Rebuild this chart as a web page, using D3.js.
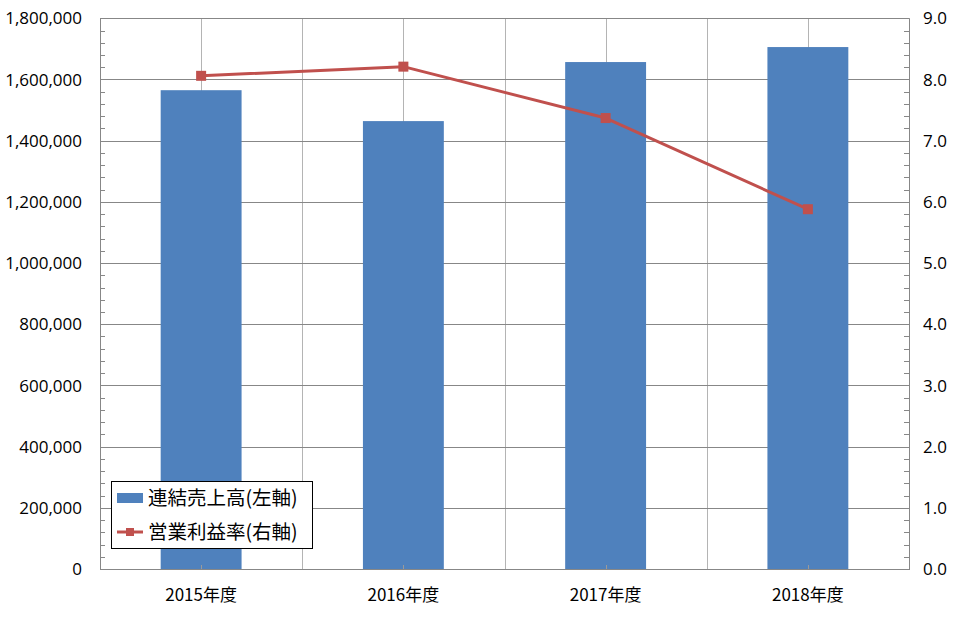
<!DOCTYPE html>
<html><head><meta charset="utf-8">
<script src="https://cdn.jsdelivr.net/npm/d3@7"></script>
<style>body{margin:0;background:#fff}svg{display:block}</style>
</head><body>
<svg id="c" width="975" height="637"></svg>
<script>
const categories = ["2015年度","2016年度","2017年度","2018年度"];
const sales = [1565000, 1464000, 1657000, 1706000];
const margin = [8.06, 8.21, 7.37, 5.88];
const leftTicks = [0,200000,400000,600000,800000,1000000,1200000,1400000,1600000,1800000];
const rightTicks = [0,1,2,3,4,5,6,7,8,9];
const legendLabels = ["連結売上高(左軸)","営業利益率(右軸)"];

const svg = d3.select("#c");
const L=100, R=909, T=18.3, B=569;
const x = d3.scaleBand().domain(categories).range([L,R]).paddingInner(0).paddingOuter(0);
const yL = d3.scaleLinear().domain([0,1800000]).range([B,T]);
const yR = d3.scaleLinear().domain([0,9]).range([B,T]);
const bw = x.bandwidth()*0.4;
const cx = d => x(d)+x.bandwidth()/2;

// vertical gridlines: boundaries and centers
const vg = svg.append("g");
categories.forEach((c,i)=>{
  [x(c)+x.bandwidth()/2, x(c)+x.bandwidth()].forEach(px=>{
    vg.append("line").attr("x1",Math.round(px)+0.5).attr("x2",Math.round(px)+0.5)
      .attr("y1",T).attr("y2",B).attr("stroke","#b4b4b4").attr("stroke-width",1);
  });
});
// horizontal gridlines
svg.append("g").selectAll("line").data(leftTicks).join("line")
  .attr("x1",L).attr("x2",R).attr("y1",d=>Math.round(yL(d))+0.5).attr("y2",d=>Math.round(yL(d))+0.5)
  .attr("stroke","#878787").attr("stroke-width",1);

// bars
svg.append("g").selectAll("rect").data(sales).join("rect")
  .attr("x",(d,i)=>cx(categories[i])-bw/2).attr("width",bw)
  .attr("y",d=>yL(d)).attr("height",d=>B-yL(d)).attr("fill","#4f81bd");

// x-axis ticks at centers
svg.append("g").selectAll("line").data(categories).join("line")
  .attr("x1",d=>Math.round(cx(d))+0.5).attr("x2",d=>Math.round(cx(d))+0.5)
  .attr("y1",B-4).attr("y2",B).attr("stroke","#9a9a9a");

// axes frame lines
svg.append("line").attr("x1",L+0.5).attr("x2",L+0.5).attr("y1",T).attr("y2",B).attr("stroke","#878787");
svg.append("line").attr("x1",R+0.5).attr("x2",R+0.5).attr("y1",T).attr("y2",B).attr("stroke","#878787");
svg.append("line").attr("x1",L).attr("x2",R+1).attr("y1",B+0.5).attr("y2",B+0.5).attr("stroke","#878787");

// minor ticks
const minorL = d3.range(0,1800001,40000);
svg.append("g").selectAll("line").data(minorL).join("line")
  .attr("x1",L).attr("x2",L+5).attr("y1",d=>Math.round(yL(d))+0.5).attr("y2",d=>Math.round(yL(d))+0.5).attr("stroke","#878787");
const minorR = d3.range(0,9.001,0.2);
svg.append("g").selectAll("line").data(minorR).join("line")
  .attr("x1",R-5).attr("x2",R).attr("y1",d=>Math.round(yR(d))+0.5).attr("y2",d=>Math.round(yR(d))+0.5).attr("stroke","#878787");

// axis labels
const font = "'Open Sans','Noto Sans CJK JP',sans-serif";
svg.append("g").selectAll("text").data(leftTicks).join("text")
  .attr("x",82).attr("y",d=>yL(d)).attr("dy","0.36em").attr("text-anchor","end")
  .attr("font-family",font).attr("font-size",17).attr("fill","#000")
  .text(d=>d3.format(",")(d));
svg.append("g").selectAll("text").data(rightTicks).join("text")
  .attr("x",923).attr("y",d=>yR(d)).attr("dy","0.36em").attr("text-anchor","start")
  .attr("font-family",font).attr("font-size",17).attr("fill","#000")
  .text(d=>d3.format(".1f")(d));
svg.append("g").selectAll("text").data(categories).join("text")
  .attr("x",d=>cx(d)).attr("y",601).attr("text-anchor","middle")
  .attr("font-family","'Noto Sans CJK JP',sans-serif").attr("font-size",17).attr("fill","#000")
  .text(d=>d);

// line
const line = d3.line().x((d,i)=>cx(categories[i])).y(d=>yR(d));
svg.append("path").datum(margin).attr("d",line).attr("fill","none")
  .attr("stroke","#c0504d").attr("stroke-width",3).attr("stroke-linejoin","round");
svg.append("g").selectAll("rect").data(margin).join("rect")
  .attr("x",(d,i)=>cx(categories[i])-5).attr("y",d=>yR(d)-5).attr("width",10).attr("height",10)
  .attr("fill","#c0504d");

// legend
const lg = svg.append("g");
lg.append("rect").attr("x",111.5).attr("y",481.5).attr("width",201).attr("height",67)
  .attr("fill","#fff").attr("stroke","#000").attr("stroke-width",1);
lg.append("rect").attr("x",117).attr("y",493).attr("width",26).attr("height",10).attr("fill","#4f81bd");
lg.append("line").attr("x1",117).attr("x2",143).attr("y1",532).attr("y2",532).attr("stroke","#c0504d").attr("stroke-width",3);
lg.append("rect").attr("x",126).attr("y",528).attr("width",8).attr("height",8).attr("fill","#c0504d");
lg.selectAll("text").data(legendLabels).join("text")
  .attr("x",148).attr("y",(d,i)=>498+i*34).attr("dy","0.36em")
  .attr("font-family","'Noto Sans CJK JP',sans-serif").attr("font-size",19.5).attr("fill","#000")
  .text(d=>d);
</script>
</body></html>
